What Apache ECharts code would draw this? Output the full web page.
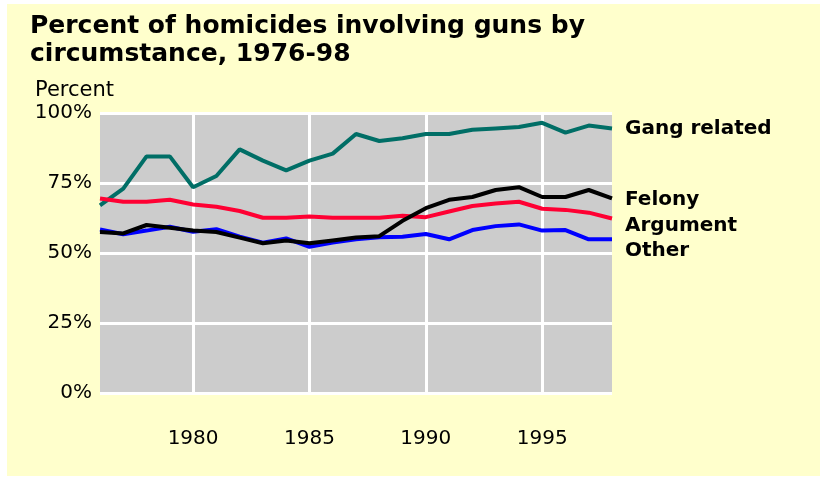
<!DOCTYPE html>
<html style="height: 100%">
<head>
<meta charset="utf-8">
</head>
<body style="height: 100%; margin: 0; background: #ffffff">
<div id="container" style="width: 820px; height: 478px"></div>
<script type="text/javascript" src="https://cdn.jsdelivr.net/npm/echarts@6/dist/echarts.min.js"></script>
<script type="text/javascript">
var years = [];
for (var y = 1976; y <= 1998; y++) years.push(String(y));

var gangRelated = [67, 73, 84.5, 84.5, 73.5, 77.5, 87, 83, 79.5, 83, 85.5, 92.5, 90, 91, 92.5, 92.5, 94, 94.5, 95, 96.5, 93, 95.5, 94.5];
var felony = [57.5, 57, 60, 59, 58, 57.5, 55.5, 53.5, 54.5, 53.5, 54.5, 55.5, 56, 61.5, 66, 69, 70, 72.5, 73.5, 70, 70, 72.5, 69.5];
var argument = [69.5, 68.3, 68.3, 69, 67.3, 66.5, 65, 62.6, 62.6, 63, 62.6, 62.6, 62.6, 63.3, 62.8, 64.8, 66.8, 67.7, 68.3, 65.8, 65.4, 64.4, 62.3];
var other = [58.4, 56.7, 58, 59.4, 57.6, 58.5, 55.8, 53.7, 55.2, 52.2, 53.7, 54.9, 55.6, 55.8, 56.8, 54.9, 58.2, 59.6, 60.2, 58, 58.2, 54.9, 54.9];

var yTicks = [0, 25, 50, 75, 100];

var dom = document.getElementById("container");
var myChart = echarts.init(dom);

function mkSeries(name, data, color, dy) {
    return {
        name: name,
        type: 'line',
        data: data,
        symbol: 'none',
        animation: false,
        lineStyle: { color: color, width: 4 },
        itemStyle: { color: color },
        endLabel: {
            show: true,
            formatter: '{a}',
            distance: 13,
            offset: [0, dy],
            color: '#000',
            fontFamily: 'DejaVu Sans',
            fontWeight: 'bold',
            fontSize: 20
        }
    };
}

var option = {
    backgroundColor: '#ffffff',
    graphic: [{
        type: 'rect',
        z: -10,
        shape: { x: 7, y: 4, width: 813, height: 472 },
        style: { fill: '#ffffcc' }
    }],
    title: {
        text: 'Percent of homicides involving guns by\ncircumstance, 1976-98',
        left: 25,
        top: 7,
        textStyle: {
            fontFamily: 'DejaVu Sans',
            fontWeight: 'bold',
            fontSize: 25,
            lineHeight: 28,
            color: '#000'
        }
    },
    grid: {
        left: 100, right: 208, top: 113, bottom: 85,
        show: true,
        backgroundColor: '#cccccc',
        borderWidth: 0
    },
    xAxis: {
        type: 'category',
        data: years,
        boundaryGap: false,
        axisLine: { show: false },
        axisTick: { show: false },
        axisLabel: {
            interval: function (idx, val) { return Number(val) % 5 === 0; },
            margin: 36,
            color: '#000',
            fontFamily: 'DejaVu Sans',
            fontSize: 20
        },
        splitLine: {
            show: true,
            interval: function (idx, val) { return Number(val) % 5 === 0; },
            lineStyle: { color: '#ffffff', width: 3 }
        }
    },
    yAxis: {
        type: 'value',
        min: yTicks[0],
        max: yTicks[yTicks.length - 1],
        interval: 25,
        name: 'Percent',
        nameLocation: 'end',
        nameGap: 12,
        nameTextStyle: {
            align: 'left',
            padding: [0, 0, 0, -65],
            color: '#000',
            fontFamily: 'DejaVu Sans',
            fontSize: 21
        },
        axisLine: { show: false },
        axisTick: { show: false },
        axisLabel: {
            formatter: '{value}%',
            margin: 8,
            color: '#000',
            fontFamily: 'DejaVu Sans',
            fontSize: 20
        },
        splitLine: { lineStyle: { color: '#ffffff', width: 3 } }
    },
    series: [
        mkSeries('Gang related', gangRelated, '#006e66', 0),
        mkSeries('Other', other, '#0000ff', 12),
        mkSeries('Argument', argument, '#ff0033', 7),
        mkSeries('Felony', felony, '#000000', 1)
    ]
};

myChart.setOption(option);
</script>
</body>
</html>
